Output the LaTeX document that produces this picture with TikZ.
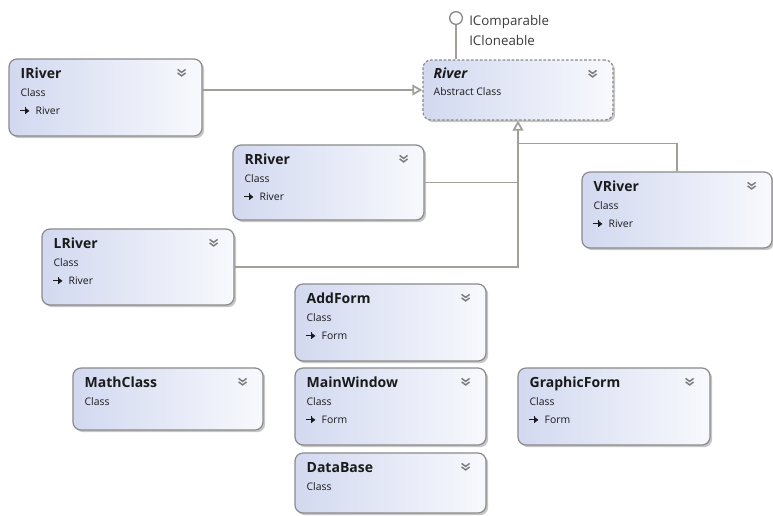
\documentclass[tikz,border=0pt]{standalone}
\usepackage{fontspec}
\setmainfont{Open Sans}
\usetikzlibrary{arrows.meta,shadows,fit,calc}
\definecolor{bordc}{HTML}{8A8A8A}
\definecolor{linec}{HTML}{A0A099}
\definecolor{fillL}{HTML}{D2D9F0}
\definecolor{fillR}{HTML}{F8F9FD}
\definecolor{txt}{HTML}{1A1A1A}
\definecolor{chevc}{HTML}{7A7A7A}
\tikzset{
  cbox/.style={draw=bordc, line width=0.9pt, rounded corners=6pt, left color=fillL, right color=fillR, inner sep=0pt,
    drop shadow={shadow xshift=1.6pt, shadow yshift=-1.6pt, fill=black, opacity=0.22}},
  ttl/.style={font=\fontsize{10.5}{12}\selectfont\bfseries, text=txt, inner sep=0pt},
  knd/.style={font=\fontsize{7.8}{9}\selectfont, text=txt, inner sep=0pt},
  iface/.style={font=\fontsize{10}{12}\selectfont, text=txt!85, inner sep=0pt},
  chev/.style={draw=chevc, line width=1.1pt},
  conn/.style={draw=linec, line width=1.3pt},
  gen/.style={conn, -{Triangle[open, length=7.5pt, width=8pt, fill=white]}},
}
\newcommand\clsbox[8]{%
  \node[cbox, fit={(#2,#3) (#4,#5)}] (#1) {};
  \node[ttl, anchor=base west] (#1-t) at ($(#1.north west)+(12,20)$) {#6};
  \node[knd, anchor=base west] (#1-k) at ($(#1.north west)+(12,38)$) {#7};
  \draw[chev] ($(#1.north east)+(-25,11)$) -- ++(4,3) -- ++(4,-3);
  \draw[chev] ($(#1.north east)+(-25,14.5)$) -- ++(4,3) -- ++(4,-3);
  \def\tmpbase{#8}%
  \ifx\tmpbase\empty\else
    \draw[txt, line width=0.8pt] ($(#1.north west)+(12,52.5)$) -- ++(5,0);
    \draw[txt, line width=0.7pt] ($(#1.north west)+(17,49)$) -- ++(0,7);
    \fill[txt] ($(#1.north west)+(17,49.5)$) -- ++(4,3) -- ++(-4,3) -- cycle;
    \node[knd, anchor=base west] (#1-b) at ($(#1.north west)+(27,56)$) {#8};
  \fi
}
\begin{document}
\begin{tikzpicture}[x=0.75pt, y=-0.75pt]
  \fill[white] (0,0) rectangle (773,515);
  \useasboundingbox (0,0) rectangle (773,515);

  % River (abstract)
  \node[cbox, dashed, dash pattern=on 2pt off 1.4pt, fit={(423,60) (613,120)}] (river) {};
  \node[ttl, font=\fontsize{10.5}{12}\selectfont\bfseries\itshape, anchor=base west] (river-t) at ($(river.north west)+(11,19)$) {River};
  \node[knd, anchor=base west] (river-k) at ($(river.north west)+(11,36)$) {Abstract Class};
  \draw[chev] ($(river.north east)+(-25,11)$) -- ++(4,3) -- ++(4,-3);
  \draw[chev] ($(river.north east)+(-25,14.5)$) -- ++(4,3) -- ++(4,-3);

  % lollipop
  \node[circle, draw=bordc, line width=1pt, fill=white, minimum size=9.5pt, inner sep=0pt] (lol) at (456,18) {};
  \draw[conn] (lol.south) -- (lol.south |- river.north);
  \node[iface, anchor=base west] (icomp) at (469,25) {IComparable};
  \node[iface, anchor=base west] (iclone) at (469,45) {ICloneable};

  \clsbox{iriver}{9}{59}{202}{136}{IRiver}{Class}{River}
  \clsbox{rriver}{233}{145}{424}{220}{RRiver}{Class}{River}
  \clsbox{vriver}{582}{172}{772}{248}{VRiver}{Class}{River}
  \clsbox{lriver}{42}{229}{234}{305}{LRiver}{Class}{River}
  \clsbox{addform}{295}{284}{486}{361}{AddForm}{Class}{Form}
  \clsbox{mathclass}{73}{368}{263}{430}{MathClass}{Class}{}
  \clsbox{mainwindow}{295}{368}{486}{445}{MainWindow}{Class}{Form}
  \clsbox{graphicform}{518}{368}{710}{445}{GraphicForm}{Class}{Form}
  \clsbox{database}{295}{453}{486}{513}{DataBase}{Class}{}

  % connectors
  \draw[gen] (iriver.east |- river.west) -- (river.west);
  \coordinate (jn) at ($(river.south)+(0,23)$);
  \draw[gen] (lriver.east) -| (river.south);
  \draw[conn] (rriver.east) -- (rriver.east -| river.south);
  \draw[conn] (vriver.north) |- (jn);
\end{tikzpicture}
\end{document}
